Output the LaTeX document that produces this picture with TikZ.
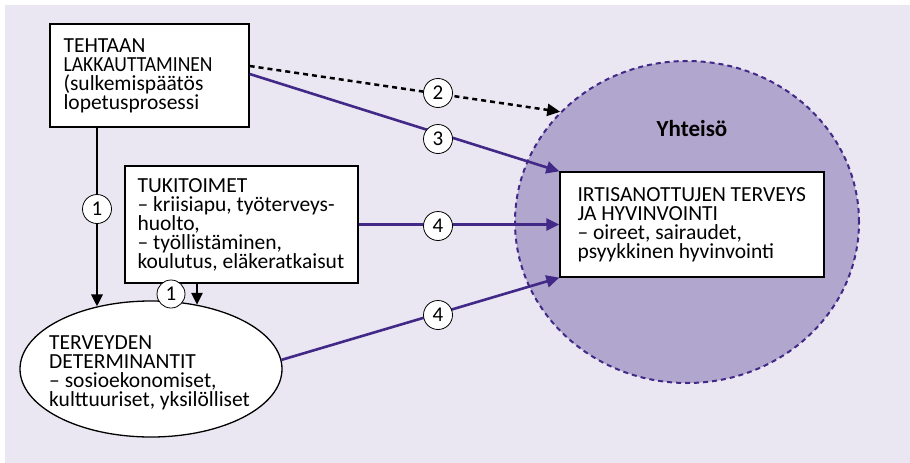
\documentclass[tikz,border=0pt]{standalone}
\usepackage{fontspec}
\setmainfont{Carlito}
\usetikzlibrary{arrows.meta,shapes.geometric,calc}
\definecolor{bgl}{RGB}{234,231,242}
\definecolor{circf}{RGB}{177,166,205}
\definecolor{purp}{RGB}{66,40,135}
\lineskiplimit=-30pt
\begin{document}
\begin{tikzpicture}[x=1pt,y=-1pt,
  boxs/.style={draw=black,line width=1.3pt,fill=white,rectangle,inner sep=0pt},
  txt/.style={align=left,inner sep=0pt,font=\fontsize{21.5}{19}\selectfont},
  lab/.style={circle,draw=black,line width=0.8pt,fill=white,minimum size=29pt,inner sep=0pt,font=\fontsize{21}{21}\selectfont},
  blk/.style={line width=2.8pt,-{Triangle[length=12pt,width=11pt]}},
  pur/.style={draw=purp,line width=2.6pt,-{Triangle[length=13pt,width=12pt]}},
  dotl/.style={line width=2.5pt,dash pattern=on 5pt off 4pt,-{Triangle[length=13pt,width=12pt]}}
]
\useasboundingbox (0,0) rectangle (910,463);
\fill[bgl] (5,5) rectangle (910,463);

% community circle
\node[ellipse,draw=purp,fill=circf,line width=2pt,dash pattern=on 5pt off 4pt,minimum width=344pt,minimum height=322pt,inner sep=0pt] (comm) at (687,222) {};
\node[font=\fontsize{23}{23}\selectfont\bfseries] (yh) at (692,129) {Yhteisö};

% boxes
\node[boxs,minimum width=199pt,minimum height=103pt] (b1) at (149.5,75.5) {};
\node[txt,anchor=west] (t1) at ($(b1.west)+(14,0)$) {TEHTAAN\\{\addfontfeatures{FakeStretch=0.91}LAKKAUTTAMINEN}\\(sulkemispäätös\\lopetusprosessi};

\node[boxs,minimum width=233pt,minimum height=117pt] (b2) at (241.5,224.5) {};
\node[txt,anchor=west] (t2) at ($(b2.west)+(13,0)$) {TUKITOIMET\\– kriisiapu, työterveys-\\huolto,\\– työllistäminen,\\koulutus, eläkeratkaisut};

\node[boxs,minimum width=264pt,minimum height=105pt] (ib) at (692,224.5) {};
\node[txt,anchor=west] (ti) at ($(ib.west)+(18,0)$) {IRTISANOTTUJEN TERVEYS\\JA HYVINVOINTI\\– oireet, sairaudet,\\psyykkinen hyvinvointi};

\node[ellipse,draw=black,line width=1.3pt,fill=white,minimum width=262pt,minimum height=136pt,inner sep=0pt] (ell) at (151,369) {};
\node[txt,anchor=west] (te) at (49,373) {TERVEYDEN\\DETERMINANTIT\\– sosioekonomiset,\\kulttuuriset, yksilölliset};

% connectors
\coordinate (x1) at (97,0);
\coordinate (x2) at (197,0);
\draw[blk] (b1.south -| x1) -- (x1 |- ell.131);
\draw[blk] (b2.south -| x2) -- (x2 |- ell.54);
\draw[dotl] ([yshift=9.5pt]b1.east) -- (comm.139);
\draw[pur] ([yshift=1.5pt]b1.east) -- (ib.north west);
\draw[pur] (b2.east) -- (ib.west);
\draw[pur] (ell.4) -- (ib.south west);

% labels
\node[lab] (l1a) at (97,209) {1};
\node[lab,minimum size=28pt] (l1b) at (171,294) {1};
\node[lab] (l2) at (438,93) {2};
\node[lab] (l3) at (438,139) {3};
\node[lab] (l4a) at (438,226) {4};
\node[lab] (l4b) at (438,315) {4};
\end{tikzpicture}
\end{document}
